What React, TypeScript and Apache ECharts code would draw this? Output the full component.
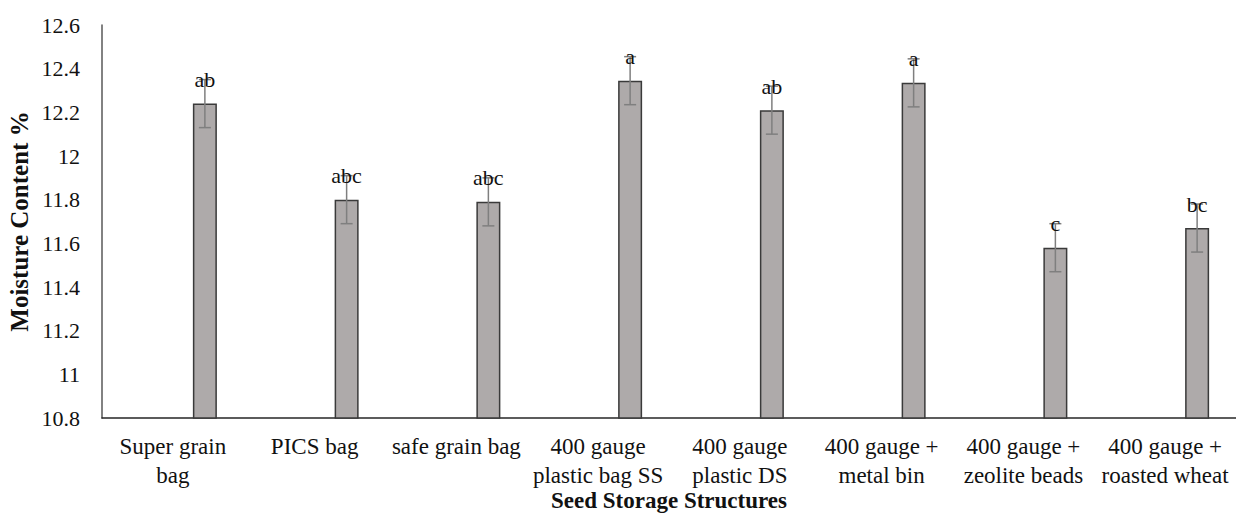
import React, { useEffect, useRef } from "react";
import * as echarts from "echarts";

const categories = [
  "Super grain\nbag",
  "PICS bag",
  "safe grain bag",
  "400 gauge\nplastic bag SS",
  "400 gauge\nplastic DS",
  "400 gauge +\nmetal bin",
  "400 gauge +\nzeolite beads",
  "400 gauge +\nroasted wheat",
];
const moisture = [12.24, 11.8, 11.79, 12.345, 12.21, 12.335, 11.58, 11.67];
const errors = [0.11, 0.11, 0.11, 0.11, 0.11, 0.11, 0.11, 0.11];
const letters = ["ab", "abc", "abc", "a", "ab", "a", "c", "bc"];
const yTicks = { min: 10.8, max: 12.6, interval: 0.2 };

const FONT = "Liberation Serif";

export default function App() {
  const ref = useRef<HTMLDivElement>(null);
  useEffect(() => {
    if (!ref.current) return;
    const chart = echarts.init(ref.current, null, { renderer: "svg" });
    const errData = moisture.map((v, i) => [i, v, errors[i]]);
    chart.setOption({
      animation: false,
      backgroundColor: "#ffffff",
      textStyle: { fontFamily: FONT },
      grid: { left: 102, right: 0, top: 25, bottom: 95, containLabel: false, outerBoundsMode: "none" },
      xAxis: {
        type: "category",
        data: categories,
        axisLine: { lineStyle: { color: "#262626", width: 1.5 } },
        axisTick: { show: false },
        axisLabel: {
          interval: 0,
          color: "#111",
          fontFamily: FONT,
          fontSize: 23,
          lineHeight: 29,
          margin: 14,
        },
        name: "Seed Storage Structures",
        nameLocation: "middle",
        nameGap: 71,
        nameMoveOverlap: false,
        nameTextStyle: { fontFamily: FONT, fontSize: 23, fontWeight: "bold", color: "#111" },
      },
      yAxis: {
        type: "value",
        min: yTicks.min,
        max: yTicks.max,
        interval: yTicks.interval,
        axisLine: { show: true, lineStyle: { color: "#595959", width: 1.5 } },
        axisTick: { show: false },
        splitLine: { show: false },
        axisLabel: {
          color: "#111",
          fontFamily: FONT,
          fontSize: 22,
          margin: 22,
        },
        name: "Moisture Content %",
        nameLocation: "middle",
        nameRotate: 90,
        nameGap: 70,
        nameMoveOverlap: false,
        nameTextStyle: { fontFamily: FONT, fontSize: 25, fontWeight: "bold", color: "#111" },
      },
      series: [
        {
          type: "bar",
          data: categories.map(() => "-"),
          barWidth: 24,
          barGap: "166.67%",
        },
        {
          type: "bar",
          data: moisture,
          barWidth: 24,
          barGap: "166.67%",
          itemStyle: { color: "#AEAAAA", borderColor: "#3a3a3a", borderWidth: 1.5 },
        },
        {
          type: "custom",
          data: errData,
          encode: { x: 0, y: 1 },
          z: 10,
          renderItem: (params: any, api: any) => {
            const i = api.value(0);
            const v = api.value(1);
            const e = api.value(2);
            const letter = letters[i];
            const catW = api.size([1, 0])[0];
            const top = api.coord([i, v + e]);
            const bot = api.coord([i, v - e]);
            const x = top[0] + catW * (32 / 141.75);
            const capHalf = 6;
            const stroke = { stroke: "#7f7f7f", lineWidth: 1.5 };
            return {
              type: "group",
              children: [
                { type: "line", shape: { x1: x, y1: top[1], x2: x, y2: bot[1] }, style: stroke },
                { type: "line", shape: { x1: x - capHalf, y1: top[1], x2: x + capHalf, y2: top[1] }, style: stroke },
                { type: "line", shape: { x1: x - capHalf, y1: bot[1], x2: x + capHalf, y2: bot[1] }, style: stroke },
                {
                  type: "text",
                  x: x,
                  y: top[1],
                  style: {
                    text: letter,
                    fill: "#111",
                    fontFamily: FONT,
                    fontSize: 22,
                    align: "center",
                    verticalAlign: "middle",
                  },
                },
              ],
            };
          },
        },
      ],
    });
    return () => chart.dispose();
  }, []);
  return (
    <div
      ref={ref}
      style={{ position: "fixed", left: 0, top: 0, width: 1236, height: 513, background: "#fff" }}
    />
  );
}
